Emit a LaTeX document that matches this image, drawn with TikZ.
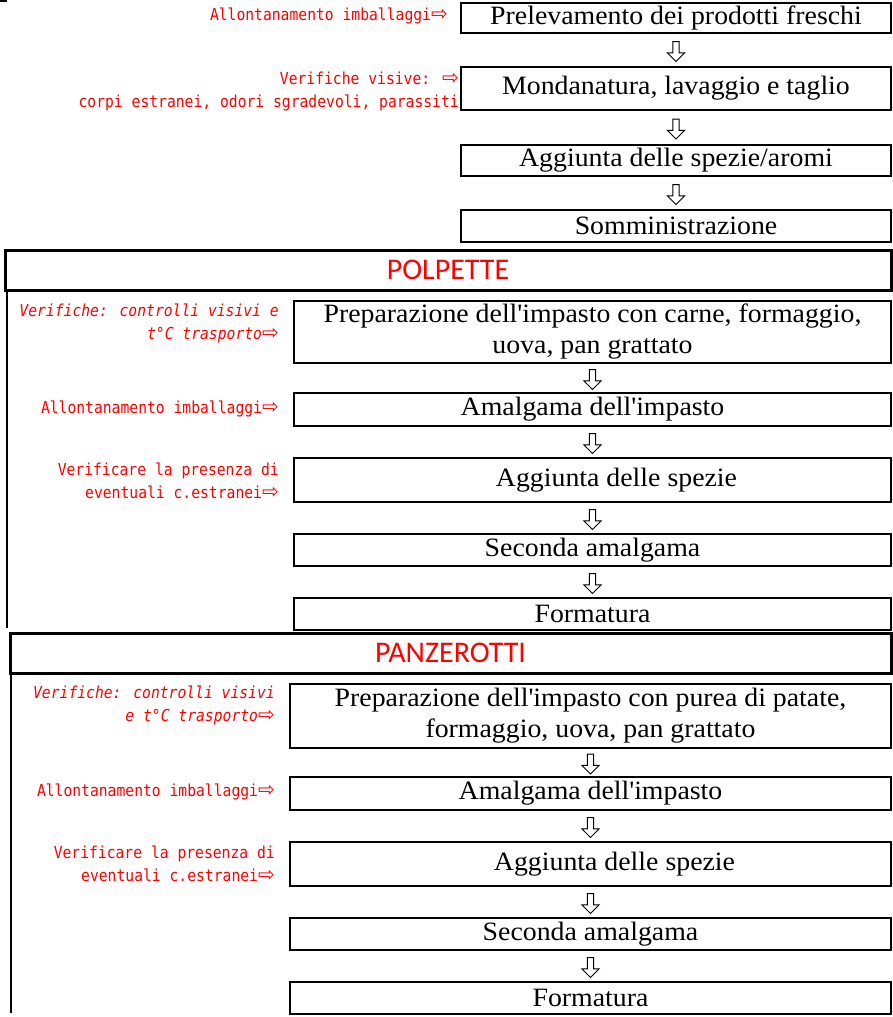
\documentclass[tikz,border=0pt]{standalone}
\usepackage{fontspec}
\setmainfont{Liberation Serif}[FakeStretch=1.05]
\newfontfamily\notefont[FakeStretch=0.89]{DejaVu Sans Mono}
\newfontfamily\symfont{DejaVu Sans}
\newfontfamily\titlefont{Carlito}
\usepackage{tikz}
\usetikzlibrary{shapes.arrows}
\usetikzlibrary{calc}
\newcommand{\pointer}{{\symfont\fontsize{20}{20}\selectfont ⇨}}

\begin{document}
\begin{tikzpicture}[x=1pt,y=-1pt,
    stepbox/.style={draw, line width=1.7pt, inner sep=0pt, align=center, font=\fontsize{26.5}{31}\selectfont},
    note/.style={anchor=east, inner sep=0pt, text=red, align=right, font=\notefont\fontsize{16.5}{23}\selectfont},
    header/.style={draw, line width=3pt, inner sep=0pt, text=red, font=\titlefont\fontsize{30}{30}\selectfont},
    down/.style={single arrow, draw, line width=0.9pt, fill=white, shape border rotate=270, minimum height=20pt, single arrow head extend=5.5pt, inner sep=2.7pt}]
    \useasboundingbox (0,0) rectangle (893,1017);
    % frame pieces
    \draw[line width=2.5pt] (0,1) -- (7,1);
    \draw[line width=1.3pt] (7,290) -- (7,628);
    \draw[line width=1.3pt] (11,673) -- (11,1013);
    %
    % Top steps
    \node[stepbox, minimum width=430, minimum height=30] (b1) at (676,18) {Prelevamento dei prodotti freschi};
    \node[stepbox, minimum width=430, minimum height=43] (b2) at (676,88.5) {Mondanatura, lavaggio e taglio};
    \node[stepbox, minimum width=430, minimum height=31] (b3) at (676,160.5) {Aggiunta delle spezie/aromi};
    \node[stepbox, minimum width=430, minimum height=32] (b4) at (676,226) {Somministrazione};
    \node[note] (n1) at (448,16) {Allontanamento imballaggi\pointer};
    \node[note] (n2) at (459,91.5) {Verifiche visive: \pointer\\corpi estranei, odori sgradevoli, parassiti};
    %
    % POLPETTE
    \node[header, minimum width=886, minimum height=40] (pol) at (448,270) {POLPETTE};
    \node[stepbox, minimum width=597, minimum height=62] (p1) at (592.5,332) {Preparazione dell\textquotesingle impasto con carne, formaggio,\\uova, pan grattato};
    \node[stepbox, minimum width=597, minimum height=33] (p2) at (592.5,409.5) {Amalgama dell\textquotesingle impasto};
    \node[stepbox, minimum width=597, minimum height=44] (p3) at (592.5,480) {\hspace*{48pt}Aggiunta delle spezie};
    \node[stepbox, minimum width=597, minimum height=32] (p4) at (592.5,550) {Seconda amalgama};
    \node[stepbox, minimum width=597, minimum height=32] (p5) at (592.5,614) {Formatura};
    \node[note] (m1) at (279,323) {\itshape Verifiche: controlli visivi e\\\itshape t°C trasporto\pointer};
    \node[note] (m2) at (279,409) {Allontanamento imballaggi\pointer};
    \node[note] (m3) at (279,480.5) {Verificare la presenza di\\eventuali c.estranei\pointer};
    %
    % PANZEROTTI
    \node[header, minimum width=881, minimum height=40] (pan) at (450.5,653) {PANZEROTTI};
    \node[stepbox, minimum width=601, minimum height=64] (z1) at (590.5,716) {Preparazione dell\textquotesingle impasto con purea di patate,\\formaggio, uova, pan grattato};
    \node[stepbox, minimum width=601, minimum height=33] (z2) at (590.5,793.5) {Amalgama dell\textquotesingle impasto};
    \node[stepbox, minimum width=601, minimum height=44] (z3) at (590.5,864) {\hspace*{48pt}Aggiunta delle spezie};
    \node[stepbox, minimum width=601, minimum height=32] (z4) at (590.5,934) {Seconda amalgama};
    \node[stepbox, minimum width=601, minimum height=32] (z5) at (590.5,998) {Formatura};
    \node[note] (k1) at (275,705.5) {\itshape Verifiche: controlli visivi\\\itshape e t°C trasporto\pointer};
    \node[note] (k2) at (275,792) {Allontanamento imballaggi\pointer};
    \node[note] (k3) at (275,864) {Verificare la presenza di\\eventuali c.estranei\pointer};
    %
    % Flow arrows
    \foreach \a/\b in {b1/b2,b2/b3,b3/b4,p1/p2,p2/p3,p3/p4,p4/p5,z1/z2,z2/z3,z3/z4,z4/z5}
        \node[down] (\a\b) at ($(\a.south)!0.5!(\b.north)$) {};
\end{tikzpicture}
\end{document}
